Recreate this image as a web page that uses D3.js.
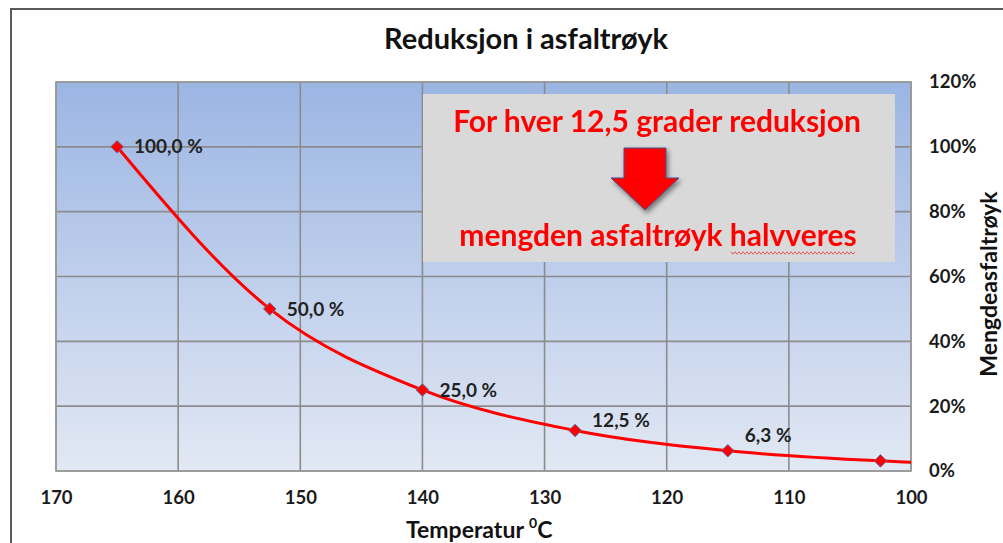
<!DOCTYPE html>
<html>
<head>
<meta charset="utf-8">
<script src="https://cdn.jsdelivr.net/npm/d3@7"></script>
<style>
  html, body { margin: 0; padding: 0; background: #fff; }
  svg { display: block; font-family: Lato, "Open Sans", sans-serif; }
</style>
</head>
<body>
<svg id="chart" width="1003" height="543"></svg>
<script>
// Temperature (°C) and relative amount of asphalt fume
const temperatures = [165, 152.5, 140, 127.5, 115, 102.5];
const fumeShare    = [1.00, 0.50, 0.25, 0.125, 0.0625, 0.03125];
// Trend line continues to the right edge of the axis
const trendEndTemp  = 100;
const trendEndShare = 0.027;
// Which points carry a value label, and how far each label is lifted
const labelled   = [true, true, true, true, true, false];
const labelLift  = [0, 0, 0, 10, 15, 0];

const xTicks = [170, 160, 150, 140, 130, 120, 110, 100];
const yTicks = [0, 0.2, 0.4, 0.6, 0.8, 1.0, 1.2];

const title      = "Reduksjon i asfaltrøyk";
const xTitle     = "Temperatur ";
const yTitle     = "Mengdeasfaltrøyk";
const noteTop    = "For hver 12,5 grader reduksjon";
const noteBottom = "mengden asfaltrøyk halvveres";

const svg = d3.select("#chart");
const W = 1003, H = 543;
const plot = { left: 56, right: 911, top: 82, bottom: 471 };

const x = d3.scaleLinear().domain([170, 100]).range([plot.left, plot.right]);
const y = d3.scaleLinear().domain([0, 1.2]).range([plot.bottom, plot.top]);

const nb = d3.formatLocale({ decimal: ",", thousands: " ", grouping: [3], currency: ["", " kr"] });
const fmtLabel = v => nb.format(".1f")(v * 100) + " %";

const defs = svg.append("defs");
const grad = defs.append("linearGradient")
  .attr("id", "plotBg").attr("x1", 0).attr("y1", 0).attr("x2", 0).attr("y2", 1);
grad.append("stop").attr("offset", "0%").attr("stop-color", "#9bb5e3");
grad.append("stop").attr("offset", "100%").attr("stop-color", "#e2e8f4");

const shadow = defs.append("filter").attr("id", "arrowShadow")
  .attr("x", "-30%").attr("y", "-30%").attr("width", "160%").attr("height", "160%");
shadow.append("feDropShadow").attr("dx", 2).attr("dy", 3).attr("stdDeviation", 2.5)
  .attr("flood-color", "#000").attr("flood-opacity", 0.45);

const soft = defs.append("filter").attr("id", "soft");
soft.append("feGaussianBlur").attr("stdDeviation", 0.35);

// Outer chart frame
svg.append("rect")
  .attr("x", 11).attr("y", 9).attr("width", W + 20).attr("height", H + 20)
  .attr("fill", "#fff").attr("stroke", "#5a5a5a").attr("stroke-width", 2);

// Title
svg.append("text")
  .attr("x", 526).attr("y", 49)
  .attr("text-anchor", "middle")
  .attr("font-size", 29).attr("font-weight", 700).attr("fill", "#111")
  .text(title);

// Plot background
svg.append("rect")
  .attr("x", plot.left).attr("y", plot.top)
  .attr("width", plot.right - plot.left).attr("height", plot.bottom - plot.top)
  .attr("fill", "url(#plotBg)");

// Gridlines
const grid = svg.append("g").attr("stroke", "#8c8c8c").attr("stroke-width", 1.6);
grid.selectAll("line.v").data(xTicks).join("line")
  .attr("class", "v")
  .attr("x1", d => x(d)).attr("x2", d => x(d))
  .attr("y1", plot.top).attr("y2", plot.bottom);
grid.selectAll("line.h").data(yTicks).join("line")
  .attr("class", "h")
  .attr("x1", plot.left).attr("x2", plot.right)
  .attr("y1", d => y(d)).attr("y2", d => y(d));

svg.append("rect")
  .attr("x", plot.left).attr("y", plot.top)
  .attr("width", plot.right - plot.left).attr("height", plot.bottom - plot.top)
  .attr("fill", "none").attr("stroke", "#9a9a9a").attr("stroke-width", 1.6);

// Bottom axis (labels only)
const xAxis = svg.append("g")
  .attr("transform", `translate(0,${plot.bottom})`)
  .call(d3.axisBottom(x).tickValues(xTicks).tickSize(0).tickPadding(20).tickFormat(d3.format("d")));
xAxis.select(".domain").remove();
xAxis.selectAll("text")
  .attr("font-family", "Lato, sans-serif").attr("font-size", 18.5)
  .attr("font-weight", 700).attr("fill", "#1a1a1a");

// Right axis (labels only)
const yAxis = svg.append("g")
  .attr("transform", `translate(${plot.right},0)`)
  .call(d3.axisRight(y).tickValues(yTicks).tickSize(0).tickPadding(18).tickFormat(d3.format(".0%")));
yAxis.select(".domain").remove();
yAxis.selectAll("text")
  .attr("font-family", "Lato, sans-serif").attr("font-size", 18.5)
  .attr("font-weight", 700).attr("fill", "#1a1a1a");

// Axis titles
const xt = svg.append("text")
  .attr("x", 406).attr("y", 538)
  .attr("font-size", 23).attr("font-weight", 700).attr("fill", "#111");
xt.append("tspan").text(xTitle);
xt.append("tspan").attr("dy", -10).attr("font-size", 14).text("0");
xt.append("tspan").attr("dy", 10).text("C");

svg.append("text")
  .attr("transform", `translate(997,284) rotate(-90)`)
  .attr("text-anchor", "middle")
  .attr("font-size", 23).attr("font-weight", 700).attr("fill", "#111")
  .text(yTitle);

// Curve through the points, continued to the axis end
const linePts = temperatures.map((t, i) => [t, fumeShare[i]]).concat([[trendEndTemp, trendEndShare]]);
svg.append("path")
  .datum(linePts)
  .attr("fill", "none").attr("stroke", "#ff0000").attr("stroke-width", 3)
  .attr("d", d3.line().x(d => x(d[0])).y(d => y(d[1])).curve(d3.curveMonotoneX));

// Diamond markers
const pts = temperatures.map((t, i) => ({ t, v: fumeShare[i], i }));
svg.append("g").selectAll("path").data(pts).join("path")
  .attr("transform", d => `translate(${x(d.t)},${y(d.v)})`)
  .attr("d", d3.symbol().type(d3.symbolDiamond2).size(100))
  .attr("fill", "#ff0000").attr("stroke", "#5b6fa8").attr("stroke-width", 1);

// Value labels
svg.append("g").selectAll("text").data(pts.filter(d => labelled[d.i])).join("text")
  .attr("x", d => x(d.t) + 17)
  .attr("y", d => y(d.v) - labelLift[d.i])
  .attr("dy", "0.35em")
  .attr("font-size", 19).attr("font-weight", 700).attr("fill", "#222")
  .text(d => fmtLabel(d.v));

// Annotation box
const note = svg.append("g");
note.append("rect")
  .attr("x", 423).attr("y", 94).attr("width", 472).attr("height", 168)
  .attr("fill", "#d9d9d9");
note.append("text")
  .attr("x", 657).attr("y", 132).attr("text-anchor", "middle")
  .attr("font-size", 30).attr("font-weight", 700).attr("fill", "#ff0000")
  .attr("filter", "url(#soft)")
  .text(noteTop);
note.append("text")
  .attr("x", 658).attr("y", 246).attr("text-anchor", "middle")
  .attr("font-size", 30).attr("font-weight", 700).attr("fill", "#ff0000")
  .attr("filter", "url(#soft)")
  .text(noteBottom);

// Down arrow
const ax = 645;
const arrow = [
  [ax - 21, 148], [ax + 21, 148], [ax + 21, 178], [ax + 34, 178],
  [ax, 210], [ax - 34, 178], [ax - 21, 178]
];
note.append("path")
  .attr("d", d3.line()(arrow) + "Z")
  .attr("fill", "#ff0000").attr("stroke", "#3e5390").attr("stroke-width", 1)
  .attr("filter", "url(#arrowShadow)");

// Spell-check style wavy underline
const wave = [];
for (let px = 731, k = 0; px <= 856; px += 2, k++) wave.push([px, 253 + (k % 2 ? 1.2 : -1.2)]);
note.append("path")
  .attr("d", d3.line()(wave))
  .attr("fill", "none").attr("stroke", "#e0393e").attr("stroke-width", 0.8);
</script>
</body>
</html>
